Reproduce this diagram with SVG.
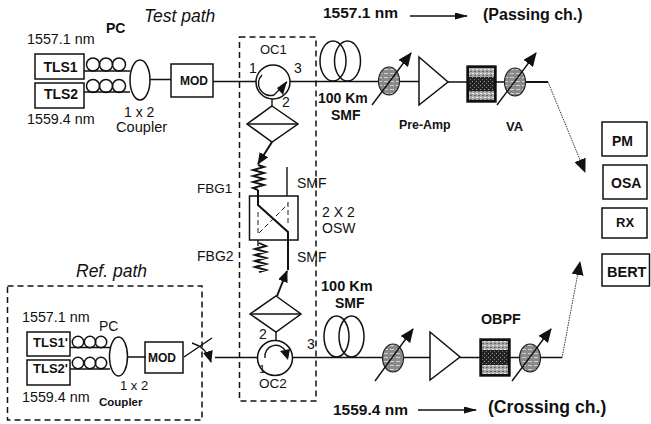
<svg xmlns="http://www.w3.org/2000/svg" width="651" height="424" viewBox="0 0 651 424">
<style>
text{font-family:"Liberation Sans",Arial,sans-serif;fill:#111;font-size:14px}
.b{font-weight:bold}
.i{font-style:italic;font-size:17.5px}
.m{text-anchor:middle}
.box,.n{fill:none;stroke:#111;stroke-width:1.5}
.w{fill:#fff;stroke:#111;stroke-width:1.5}
.l{fill:none;stroke:#111;stroke-width:1.4}
.t{fill:none;stroke:#111;stroke-width:2}
.c{fill:none;stroke:#111;stroke-width:1.9}
.d{fill:none;stroke:#111;stroke-width:1.5;stroke-dasharray:6 4}
.h{fill:none;stroke:#333;stroke-width:1;stroke-dasharray:1.5 1}
.x{fill:none;stroke:#222;stroke-width:1;stroke-dasharray:5 3}
.att{fill:url(#g);stroke:#222;stroke-width:1.2}
.fo{fill:#111;stroke:#111;stroke-width:1.4}
.fl{fill:url(#fl)}
.fd{fill:url(#fd)}
</style>
<defs>
<pattern id="g" width="6" height="4" patternUnits="userSpaceOnUse"><rect width="6" height="4" fill="#8a8a8a"/><rect y="1" width="4" height="1" fill="#d0d0d0"/></pattern>
<pattern id="fl" width="4" height="4" patternUnits="userSpaceOnUse"><rect width="4" height="4" fill="#a8a8a8"/><rect y="1" width="2" height="1" fill="#e8e8e8"/><rect x="2" y="3" width="2" height="1" fill="#666"/></pattern>
<pattern id="fd" width="4" height="4" patternUnits="userSpaceOnUse"><rect width="4" height="4" fill="#222"/><rect y="1" width="1" height="1" fill="#999"/><rect x="2" y="3" width="1" height="1" fill="#777"/></pattern>
<marker id="a" markerWidth="13" markerHeight="7" refX="12" refY="3.5" orient="auto" markerUnits="userSpaceOnUse"><path d="M0 0L13 3.5L0 7Z" fill="#111"/></marker>
<marker id="am" markerWidth="12" markerHeight="10" refX="11" refY="5" orient="auto" markerUnits="userSpaceOnUse"><path d="M0 0L12 5L0 10Z" fill="#111"/></marker>
<marker id="ab" markerWidth="14" markerHeight="12" refX="13" refY="6" orient="auto" markerUnits="userSpaceOnUse"><path d="M0 0L14 6L0 12Z" fill="#111"/></marker>
</defs>

<g id="connectors">
<path class="l" d="M84 71H130M84 92H130M149 79.500H171M213 81.500H272H419"/>
<path class="l" d="M448 82H467M495 82H530"/>
<path class="t" d="M526 82H548"/>
<path class="h" d="M548 82L585 172" marker-end="url(#ab)"/>
<path class="l" d="M272 97V106"/>
<path class="t" d="M272 142L258 164" marker-end="url(#am)"/>
<path class="l" d="M287 167V196"/>
<path class="t" d="M258 190V205L288 232V270"/>
<path class="t" d="M277 296L287 271" marker-end="url(#am)"/>
<path class="l" d="M258 240V246M276 332V342"/>
<path class="l" d="M215 357.500H258M292 357.500H431M460 357.500H480M510 357.500H562"/>
<path class="h" d="M562 358L580 262" marker-end="url(#ab)"/>
<path class="l" d="M70 347.500H110M70 369H110M127 357H146M184 357L212 338"/>
<path class="l" d="M192 343C202 346 208 352 211 362" marker-end="url(#am)"/>
</g>

<g id="dashed-box-1"><rect class="d" x="239.500" y="37" width="76.500" height="364"/></g>
<g id="dashed-box-2"><rect class="d" x="7.500" y="286" width="194.500" height="134"/></g>

<g id="tls1"><rect class="box" x="35" y="54" width="49" height="25"/><text class="b m" x="60.500" y="72">TLS1</text></g>
<g id="tls2"><rect class="box" x="35" y="83" width="49" height="25"/><text class="b m" x="61" y="99">TLS2</text></g>
<g id="pc1"><circle class="n" cx="93" cy="64.500" r="6.500"/><circle class="n" cx="106" cy="64.500" r="6.500"/><circle class="n" cx="119" cy="64.500" r="6.500"/><circle class="n" cx="93" cy="86" r="6.500"/><circle class="n" cx="106" cy="86" r="6.500"/><circle class="n" cx="119" cy="86" r="6.500"/></g>
<g id="coupler1"><ellipse class="w" cx="140" cy="80" rx="10" ry="20"/></g>
<g id="mod1"><rect class="box" x="171" y="64" width="42" height="33"/><text class="b m" x="194" y="85" style="font-size:12px">MOD</text></g>
<g id="oc1"><circle class="w" cx="273" cy="82" r="17"/><path class="l" d="M262 75A12 12 0 0 0 274 95L287 82"/><path d="M287 81L283 95L277 88Z" fill="#111"/></g>
<g id="splitter1"><path class="w" d="M272 106L298 124L272 142L247 124Z"/><path class="l" d="M247 124H298"/></g>
<g id="fbg1"><path class="c" d="M258 165L264 167L253 170L264 173L253 176L264 179L253 182L264 185L253 188L258 190"/></g>
<g id="osw"><rect class="box" x="249.500" y="196" width="48.500" height="44"/><path class="x" d="M258 212V235M288 202V226M259 233L288 204"/></g>
<g id="fbg2"><path class="c" d="M259 243L266 246L255 249L266 252L255 255L266 258L255 261L266 264L255 267L266 270L259 272"/></g>
<g id="splitter2"><path class="w" d="M276 296L301 314L276 332L250 314Z"/><path class="l" d="M250 314H301"/></g>
<g id="oc2"><circle class="w" cx="275" cy="358" r="17.500"/><path class="l" d="M265 358A11 11 0 0 1 286 352"/><path d="M280 351L290 349L288 360Z" fill="#111"/></g>

<g id="spool1"><ellipse class="n" cx="333" cy="61" rx="13" ry="20"/><ellipse class="n" cx="347.500" cy="61" rx="13" ry="20"/></g>
<g id="att1"><ellipse class="att" cx="389" cy="81" rx="10.500" ry="14"/><path class="l" d="M372 105L411 53" marker-end="url(#ab)"/></g>
<g id="preamp"><path class="w" d="M419 57L448 82L419 105Z"/></g>
<g id="filter1"><rect class="fo" x="467" y="66" width="29" height="36"/><rect class="fl" x="469" y="68" width="25" height="9"/><rect class="fd" x="469" y="77" width="25" height="14"/><rect class="fl" x="469" y="91" width="25" height="9"/></g>
<g id="att2"><ellipse class="att" cx="515" cy="82" rx="10.500" ry="14"/><path class="l" d="M497 105L536 53" marker-end="url(#ab)"/></g>
<g id="spool2"><ellipse class="n" cx="336.500" cy="336.500" rx="12.500" ry="20.500"/><ellipse class="n" cx="351.500" cy="336.500" rx="12.500" ry="20.500"/></g>
<g id="att3"><ellipse class="att" cx="393" cy="358" rx="10.500" ry="14"/><path class="l" d="M375 381L413 329" marker-end="url(#ab)"/></g>
<g id="amp2"><path class="w" d="M430 332L460 357L430 380Z"/></g>
<g id="filter2"><rect class="fo" x="480" y="339" width="30" height="37"/><rect class="fl" x="482" y="341" width="26" height="9"/><rect class="fd" x="482" y="350" width="26" height="15"/><rect class="fl" x="482" y="365" width="26" height="9"/></g>
<g id="att4"><ellipse class="att" cx="530" cy="358" rx="10.500" ry="14"/><path class="l" d="M512 381L551 329" marker-end="url(#ab)"/></g>

<g id="tls1p"><rect class="box" x="27" y="332" width="43" height="24"/><text class="b" x="33" y="347" style="font-size:13px">TLS1'</text></g>
<g id="tls2p"><rect class="box" x="27" y="360" width="43" height="25"/><text class="b" x="33" y="373" style="font-size:13px">TLS2'</text></g>
<g id="pc2"><circle class="n" cx="78" cy="342" r="5.700"/><circle class="n" cx="90" cy="342" r="5.700"/><circle class="n" cx="101" cy="342" r="5.700"/><circle class="n" cx="78" cy="363" r="5.700"/><circle class="n" cx="90" cy="363" r="5.700"/><circle class="n" cx="101" cy="363" r="5.700"/></g>
<g id="coupler2"><ellipse class="w" cx="118.500" cy="356.500" rx="9" ry="19.500"/></g>
<g id="mod2"><rect class="box" x="145" y="342" width="38" height="31"/><text class="b" x="148" y="362" style="font-size:12px">MOD</text></g>

<g id="pm"><rect class="box" x="602" y="122" width="45" height="34"/><text class="b" x="612" y="146">PM</text></g>
<g id="osa"><rect class="box" x="603" y="165" width="44" height="34"/><text class="b" x="611" y="188">OSA</text></g>
<g id="rx"><rect class="box" x="602" y="208" width="45" height="30"/><text class="b" x="616" y="227" style="font-size:13px">RX</text></g>
<g id="bert"><rect class="box" x="602" y="254" width="47.500" height="32"/><text class="b" x="607" y="277" style="font-size:14.500px">BERT</text></g>

<g id="labels">
<text class="i" x="144" y="22">Test path</text>
<text class="b" x="106" y="33">PC</text>
<text x="27" y="44" style="font-size:14.300px">1557.1 nm</text>
<text x="27" y="124" style="font-size:14.300px">1559.4 nm</text>
<text x="124" y="117">1 x 2</text>
<text x="116" y="132" style="font-size:14.600px">Coupler</text>
<text x="260" y="54" style="font-size:13px">OC1</text>
<text x="249" y="73">1</text>
<text x="294" y="73">3</text>
<text x="282" y="107">2</text>
<text x="197" y="193" style="font-size:13.500px">FBG1</text>
<text x="297" y="188">SMF</text>
<text x="197" y="261" style="font-size:14px">FBG2</text>
<text x="297" y="262">SMF</text>
<text x="322" y="217">2 X 2</text>
<text x="322" y="233">OSW</text>
<text class="b" x="318" y="103">100 Km</text>
<text class="b" x="331" y="120">SMF</text>
<text class="b" x="323" y="18" style="font-size:15.500px">1557.1 nm</text>
<text class="b" x="483" y="20" style="font-size:16px">(Passing ch.)</text>
<path class="l" d="M410 16H467" marker-end="url(#a)"/>
<text class="b" x="399" y="129" style="font-size:12.400px">Pre-Amp</text>
<text class="b" x="506" y="131" style="font-size:13px">VA</text>
<text class="i" x="76" y="277">Ref. path</text>
<text x="22" y="322" style="font-size:14.300px">1557.1 nm</text>
<text x="99" y="331">PC</text>
<text x="22" y="402" style="font-size:14.300px">1559.4 nm</text>
<text x="120" y="390" style="font-size:13px">1 x 2</text>
<text class="b" x="99" y="406" style="font-size:11.500px">Coupler</text>
<text x="259" y="388" style="font-size:13.500px">OC2</text>
<text x="259" y="339">2</text>
<text x="307" y="349">3</text>
<text x="259" y="373" style="font-size:11px">1</text>
<text class="b" x="321" y="291" style="font-size:14.500px">100 Km</text>
<text class="b" x="335" y="308">SMF</text>
<text class="b" x="481" y="324" style="font-size:14.300px">OBPF</text>
<text class="b" x="333" y="415" style="font-size:15.500px">1559.4 nm</text>
<path class="l" d="M418 410H476" marker-end="url(#a)"/>
<text class="b" x="488" y="413" style="font-size:17.600px">(Crossing ch.)</text>
</g>
</svg>
